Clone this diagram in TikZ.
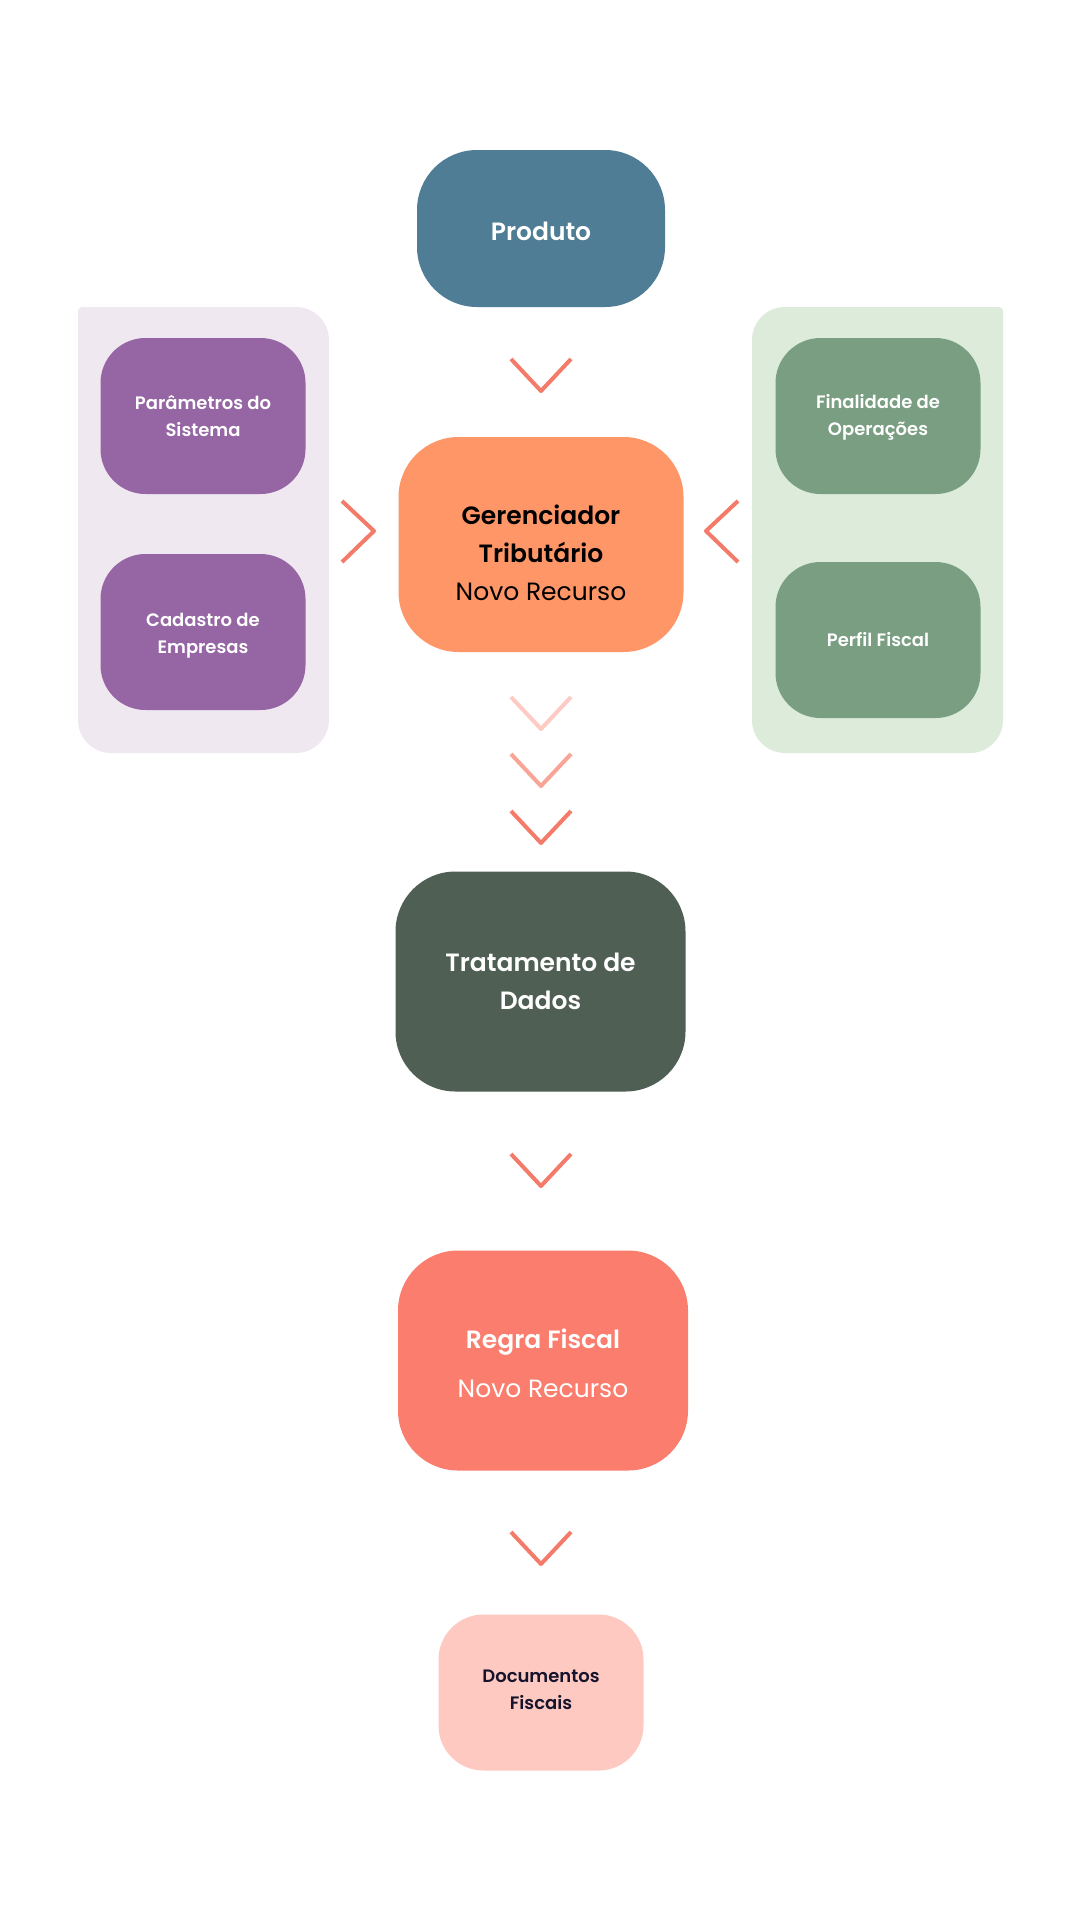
\documentclass[tikz,border=0pt]{standalone}
\usepackage{fontspec}
\setmainfont{Poppins}
\newfontfamily\semib{Poppins SemiBold}
\definecolor{cProd}{HTML}{4F7D95}
\definecolor{cLpan}{HTML}{F0E8F0}
\definecolor{cPurp}{HTML}{9565A4}
\definecolor{cRpan}{HTML}{DDEBDA}
\definecolor{cGreen}{HTML}{7A9E82}
\definecolor{cOrange}{HTML}{FE9668}
\definecolor{cDark}{HTML}{4F5F54}
\definecolor{cRegra}{HTML}{FA7D6D}
\definecolor{cDoc}{HTML}{FEC9C1}
\definecolor{cChev}{HTML}{F47A6A}
\definecolor{cChevL}{HTML}{FDCBC4}
\definecolor{cChevM}{HTML}{F8A597}
\definecolor{cNavy}{HTML}{16142C}
\tikzset{
  bigbox/.style={rectangle, rounded corners=60pt, inner sep=0pt},
  smallbox/.style={rectangle, rounded corners=45pt, inner sep=0pt, minimum width=205pt, minimum height=156pt},
  bigtxt/.style={inner sep=0pt, align=center, font=\semib\fontsize{25}{38}\selectfont},
  smalltxt/.style={inner sep=0pt, align=center, text=white, font=\semib\fontsize{18}{27}\selectfont},
  chev/.style={line width=4pt, line join=round, line cap=butt, color=cChev},
}
\begin{document}
\begin{tikzpicture}[x=1pt,y=-1pt]
\useasboundingbox (0,0) rectangle (1080,1920);
\fill[white] (0,0) rectangle (1080,1920);
% side panels
\fill[cLpan] (78,307) [rounded corners=33pt] -- (329,307) -- (329,753) -- (78,753) [rounded corners=4pt] -- cycle;
\fill[cRpan] (1003,307) [rounded corners=33pt] -- (1003,753) -- (752,753) -- (752,307) [rounded corners=4pt] -- cycle;
% boxes
\node[bigbox, fill=cProd, minimum width=248pt, minimum height=157pt] (prod) at (541,228.5) {};
\node[bigtxt, text=white] (prodt) at (541,231) {Produto};
\node[smallbox, fill=cPurp] (param) at (203,416) {};
\node[smalltxt] (paramt) at (203,416) {Parâmetros do\\Sistema};
\node[smallbox, fill=cPurp] (cad) at (203,632) {};
\node[smalltxt] (cadt) at (203,636) {Cadastro de\\Empresas};
\node[smallbox, fill=cGreen] (final) at (878,416) {};
\node[smalltxt] (finalt) at (878,417.5) {Finalidade de\\Operações};
\node[smallbox, fill=cGreen] (perfil) at (878,640) {};
\node[smalltxt] (perfilt) at (878,640) {Perfil Fiscal};
\node[bigbox, fill=cOrange, minimum width=285pt, minimum height=215pt] (ger) at (541,544.5) {};
\node[bigtxt, font=\fontsize{25}{38}\selectfont, text=black] (gert) at (541,552.5) {{\semib Gerenciador}\\{\semib Tributário}\\Novo Recurso};
\node[bigbox, fill=cDark, minimum width=290pt, minimum height=220pt] (trat) at (540.5,981.5) {};
\node[bigtxt, text=white] (tratt) at (540.5,981.5) {Tratamento de\\Dados};
\node[bigbox, fill=cRegra, minimum width=290pt, minimum height=220pt] (regra) at (543,1360.5) {};
\node[bigtxt, text=white, font=\fontsize{25}{49}\selectfont] (regrat) at (543,1363) {{\semib Regra Fiscal}\\Novo Recurso};
\node[smallbox, fill=cDoc] (doc) at (541,1692.5) {};
\node[smalltxt, text=cNavy] (doct) at (541,1690) {Documentos\\Fiscais};
% chevrons
\draw[chev] (511,359) -- (541,391) -- (571,359);
\draw[chev, color=cChevL] (511,697) -- (541,729) -- (571,697);
\draw[chev, color=cChevM] (511,754) -- (541,786) -- (571,754);
\draw[chev] (511,811) -- (541,843) -- (571,811);
\draw[chev] (511,1154) -- (541,1186) -- (571,1154);
\draw[chev] (511,1532) -- (541,1564) -- (571,1532);
\draw[chev] (342,501) -- (374,531) -- (342,562);
\draw[chev] (738,501) -- (706,531) -- (738,562);
\end{tikzpicture}
\end{document}
